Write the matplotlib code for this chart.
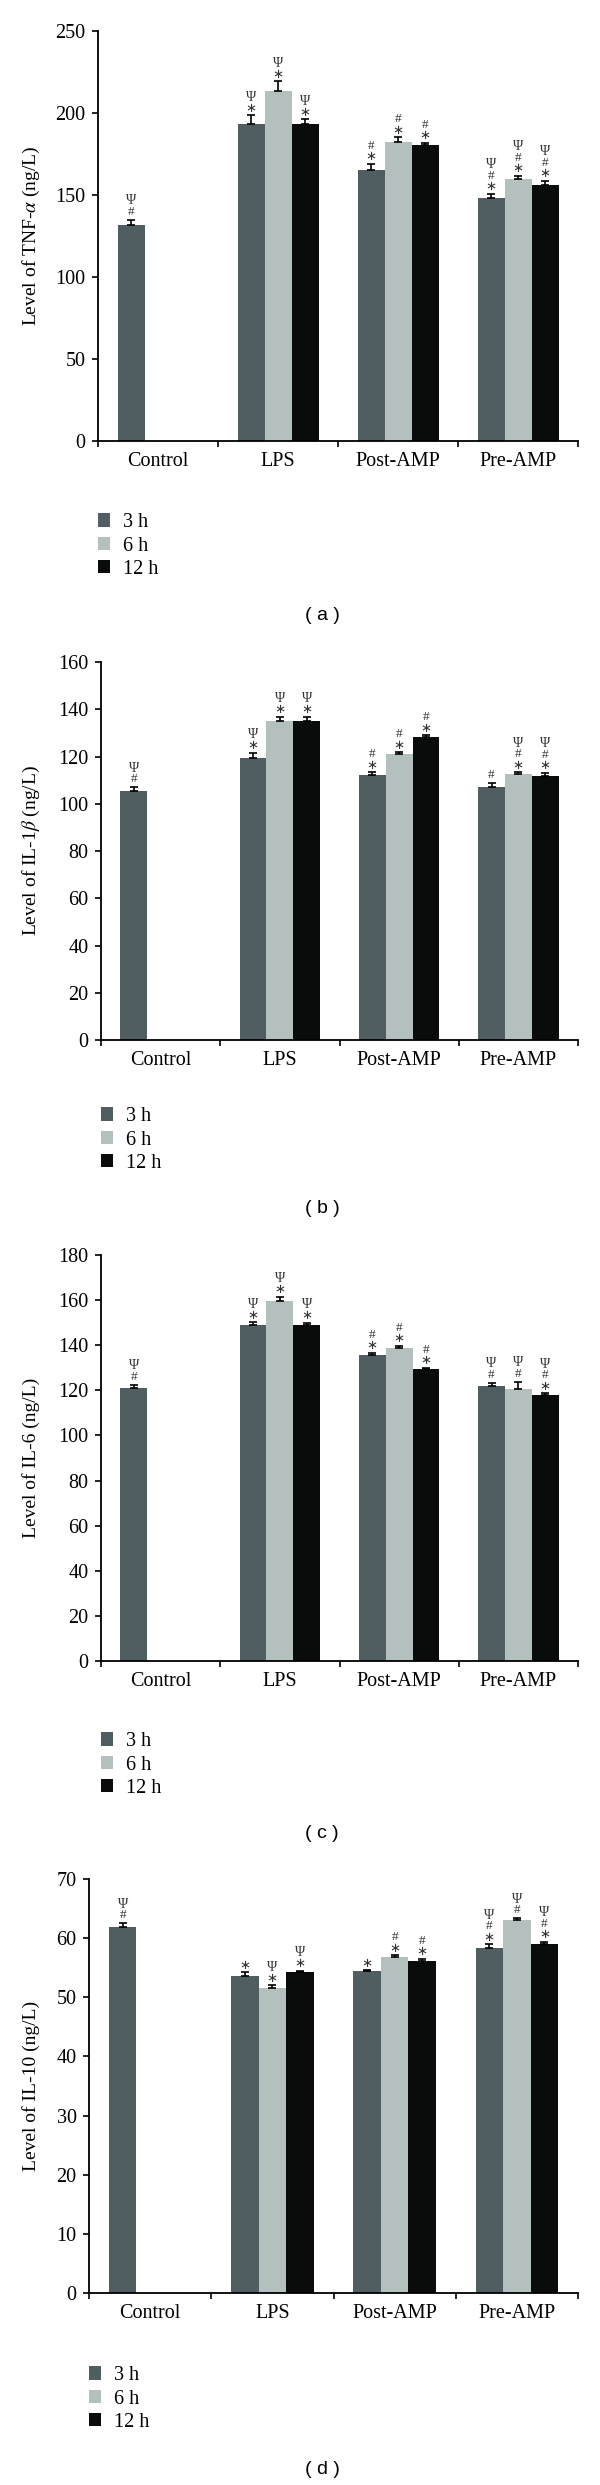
import numpy as np
import matplotlib
matplotlib.use("Agg")
import matplotlib.pyplot as plt
from matplotlib.patches import Patch

nan = np.nan

groups = ["Control", "LPS", "Post-AMP", "Pre-AMP"]
series = ["3 h", "6 h", "12 h"]

# Panel (a) TNF-alpha
tnf_3h = [131.7, 193.5, 165.4, 148.4]
tnf_3h_err = [3.1, 5.1, 3.7, 2.4]
tnf_6h = [nan, 213.4, 182.5, 159.6]
tnf_6h_err = [nan, 6.1, 2.7, 2.2]
tnf_12h = [nan, 193.5, 180.7, 156.1]
tnf_12h_err = [nan, 2.8, 1.2, 2.6]
tnf_3h_sig = ["#Ψ", "*Ψ", "*#", "*#Ψ"]
tnf_6h_sig = ["", "*Ψ", "*#", "*#Ψ"]
tnf_12h_sig = ["", "*Ψ", "*#", "*#Ψ"]

# Panel (b) IL-1beta
il1b_3h = [105.4, 119.4, 112.3, 106.9]
il1b_3h_err = [1.6, 2.1, 1.1, 1.9]
il1b_6h = [nan, 134.9, 120.9, 112.4]
il1b_6h_err = [nan, 2.0, 0.8, 1.0]
il1b_12h = [nan, 134.9, 128.1, 111.6]
il1b_12h_err = [nan, 2.0, 0.8, 1.6]
il1b_3h_sig = ["#Ψ", "*Ψ", "*#", "#"]
il1b_6h_sig = ["", "*Ψ", "*#", "*#Ψ"]
il1b_12h_sig = ["", "*Ψ", "*#", "*#Ψ"]

# Panel (c) IL-6
il6_3h = [121.2, 148.9, 135.7, 121.7]
il6_3h_err = [1.3, 1.2, 0.9, 1.7]
il6_6h = [nan, 159.7, 138.6, 120.8]
il6_6h_err = [nan, 1.7, 1.1, 3.1]
il6_12h = [nan, 149.1, 129.3, 117.9]
il6_12h_err = [nan, 0.9, 0.8, 0.9]
il6_3h_sig = ["#Ψ", "*Ψ", "*#", "#Ψ"]
il6_6h_sig = ["", "*Ψ", "*#", "#Ψ"]
il6_12h_sig = ["", "*Ψ", "*#", "*#Ψ"]

# Panel (d) IL-10
il10_3h = [61.8, 53.6, 54.4, 58.4]
il10_3h_err = [0.7, 0.6, 0.2, 0.6]
il10_6h = [nan, 51.5, 56.8, 63.0]
il10_6h_err = [nan, 0.5, 0.3, 0.4]
il10_12h = [nan, 54.2, 56.1, 59.0]
il10_12h_err = [nan, 0.3, 0.4, 0.4]
il10_3h_sig = ["#Ψ", "*", "*", "*#Ψ"]
il10_6h_sig = ["", "*Ψ", "*#", "#Ψ"]
il10_12h_sig = ["", "*Ψ", "*#", "*#Ψ"]

ylabels = ["Level of TNF-$\\alpha$ (ng/L)", "Level of IL-1$\\beta$ (ng/L)",
           "Level of IL-6 (ng/L)", "Level of IL-10 (ng/L)"]
panel_tags = ["( a )", "( b )", "( c )", "( d )"]
yticks_list = [np.arange(0, 251, 50), np.arange(0, 161, 20),
               np.arange(0, 181, 20), np.arange(0, 71, 10)]

colors = ["#505e61", "#b4c0be", "#0a0c0b"]

plt.rcParams["mathtext.fontset"] = "stix"
serif = ["Liberation Serif", "DejaVu Serif"]

W, H = 600, 2485
fig = plt.figure(figsize=(W / 100, H / 100), dpi=100)

# pixel layout: left, right, top(y of ymax), bottom(y of 0), legend center y, tag y
layout = [
    (98, 578, 31, 441, 546, 615),
    (101, 578, 662, 1040, 1140, 1209),
    (101, 578, 1255, 1661, 1765, 1834),
    (89, 578, 1879, 2293, 2399, 2470),
]

data = [
    ([tnf_3h, tnf_6h, tnf_12h], [tnf_3h_err, tnf_6h_err, tnf_12h_err],
     [tnf_3h_sig, tnf_6h_sig, tnf_12h_sig]),
    ([il1b_3h, il1b_6h, il1b_12h], [il1b_3h_err, il1b_6h_err, il1b_12h_err],
     [il1b_3h_sig, il1b_6h_sig, il1b_12h_sig]),
    ([il6_3h, il6_6h, il6_12h], [il6_3h_err, il6_6h_err, il6_12h_err],
     [il6_3h_sig, il6_6h_sig, il6_12h_sig]),
    ([il10_3h, il10_6h, il10_12h], [il10_3h_err, il10_6h_err, il10_12h_err],
     [il10_3h_sig, il10_6h_sig, il10_12h_sig]),
]

bw = 0.225
offsets = [-bw, 0.0, bw]
x = np.arange(len(groups))

sym_font = {"Ψ": (serif, 10), "#": (serif, 9.5), "*": (["DejaVu Sans"], 9.5)}

for p, (lay, (vals, errs, sigs)) in enumerate(zip(layout, data)):
    l, r, t, b, legy, tagy = lay
    ax = fig.add_axes([l / W, 1 - b / H, (r - l) / W, (b - t) / H])
    yt = yticks_list[p]
    for s in range(3):
        v = np.array(vals[s], dtype=float)
        e = np.array(errs[s], dtype=float)
        xs = x + offsets[s]
        ax.bar(xs, v, width=bw, color=colors[s], linewidth=0, label=series[s], zorder=2)
        ax.errorbar(xs, v, yerr=[np.zeros_like(e), e], fmt="none", ecolor="black",
                    elinewidth=1.2, capsize=3, capthick=1.2, zorder=3)
        for i in range(len(groups)):
            if np.isnan(v[i]) or not sigs[s][i]:
                continue
            top = v[i] + e[i]
            for k, ch in enumerate(sigs[s][i]):
                fam, fs = sym_font[ch]
                glyph = "∗" if ch == "*" else ch
                dy = 7 + 11 * k if sigs[s][i][0] == "*" else 8 + 11 * k
                ax.annotate(glyph, (xs[i], top), xytext=(0, dy),
                            textcoords="offset pixels", ha="center", va="center",
                            fontsize=fs, family=fam, color="#333333", zorder=4)
    ax.set_xlim(-0.5, len(groups) - 0.5)
    ax.set_ylim(yt[0], yt[-1])
    ax.set_yticks(yt)
    ax.set_yticklabels([str(v) for v in yt], fontsize=14.5, family=serif)
    ax.set_xticks(x)
    ax.set_xticklabels(groups, fontsize=14.5, family=serif)
    ax.set_xticks(np.arange(-0.5, len(groups), 1.0), minor=True)
    ax.tick_params(axis="x", which="major", length=0, pad=8)
    ax.tick_params(axis="x", which="minor", length=4, width=1.2, direction="out")
    ax.tick_params(axis="y", which="major", length=4, width=1.2, direction="out", pad=5)
    for sp in ["top", "right"]:
        ax.spines[sp].set_visible(False)
    for sp in ["left", "bottom"]:
        ax.spines[sp].set_linewidth(1.3)
    ax.spines["left"].set_zorder(5)
    fig.text(31 / W, 1 - (t + b) / 2 / H, ylabels[p], rotation=90, ha="center",
             va="center", fontsize=14, family=serif)
    handles = [Patch(facecolor=c, edgecolor="none") for c in colors]
    fig.legend(handles, series, loc="center left", bbox_to_anchor=(l / W, 1 - legy / H),
               frameon=False, prop={"family": serif, "size": 14.5},
               handlelength=0.62, handleheight=0.62, handletextpad=0.6,
               labelspacing=0.22, borderpad=0, borderaxespad=0)
    fig.text(322 / W, 1 - tagy / H, panel_tags[p], ha="center", va="center",
             fontsize=14, family=["Liberation Sans", "DejaVu Sans"])

fig.savefig("out.png", dpi=100, facecolor="white")
